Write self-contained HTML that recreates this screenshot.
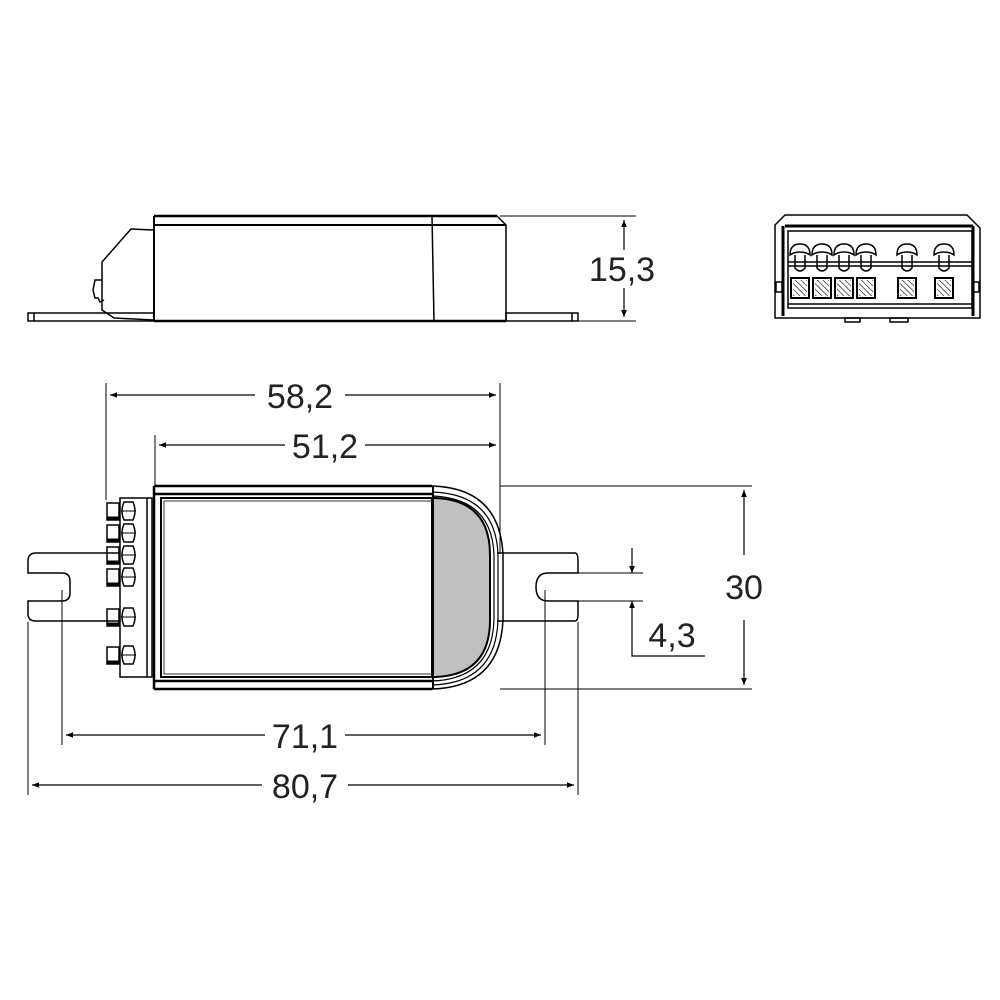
<!DOCTYPE html>
<html><head><meta charset="utf-8"><style>
html,body{margin:0;padding:0;background:#fff}
svg{display:block}
text{font-family:"Liberation Sans",sans-serif;font-size:34px;fill:#222}
</style></head><body>
<svg width="1000" height="1000" viewBox="0 0 1000 1000" xmlns="http://www.w3.org/2000/svg">
<defs>
<marker id="a" viewBox="0 0 10 10" refX="10" refY="5" markerWidth="12" markerHeight="7" orient="auto-start-reverse" markerUnits="userSpaceOnUse">
<path d="M0,1 L10,5 L0,9 Z" fill="#000"/></marker>
<pattern id="h" width="4" height="4" patternUnits="userSpaceOnUse" patternTransform="rotate(-45)">
<line x1="0" y1="0" x2="0" y2="4" stroke="#000" stroke-width="1.2"/></pattern>
</defs>
<g fill="none" stroke="#000" stroke-width="1.5">
<!-- SIDE VIEW -->
<line x1="154" y1="216" x2="497" y2="216" stroke-width="2.5"/>
<line x1="154" y1="225" x2="506" y2="225" stroke-width="2"/>
<path d="M497,216 L506,225 L506,321"/>
<line x1="154" y1="216" x2="154" y2="321" stroke-width="2"/>
<line x1="154" y1="321" x2="506" y2="321" stroke-width="2.5"/>
<line x1="432" y1="216" x2="434" y2="321"/>
<rect x="28" y="313" width="126" height="8"/>
<line x1="34" y1="313" x2="34" y2="321"/>
<rect x="506" y="313" width="72" height="8"/>
<line x1="572" y1="313" x2="572" y2="321"/>
<path d="M153,230 L131,229 L102,262 L102,310 L114,318 L153,320"/>
<path d="M102,280 L95,280 L93,290 L95,298 L98,298 L100,302 L104,300"/>
<!-- 15,3 -->
<line x1="500" y1="216" x2="636" y2="216" stroke-width="1"/>
<line x1="578" y1="321" x2="636" y2="321" stroke-width="1"/>
<line x1="624" y1="220" x2="624" y2="250" stroke-width="1.2" marker-start="url(#a)"/>
<line x1="624" y1="288" x2="624" y2="317" stroke-width="1.2" marker-end="url(#a)"/>

<!-- FRONT VIEW -->
<path d="M775,225 L785,215 L967,215 L980,228 L980,318 L775,318 Z"/>
<line x1="783" y1="226" x2="783" y2="316" stroke-width="3"/>
<line x1="973" y1="226" x2="973" y2="316" stroke-width="3"/>
<line x1="785" y1="226" x2="973" y2="226" stroke-width="3"/>
<rect x="788" y="231" width="184" height="77"/>
<line x1="788" y1="262" x2="972" y2="262"/>
<line x1="788" y1="266" x2="972" y2="266"/>
<line x1="788" y1="304" x2="972" y2="304"/>
<rect x="776" y="282" width="6" height="10"/>
<rect x="973" y="282" width="6" height="10"/>
<rect x="845" y="318" width="15" height="4"/>
<rect x="890" y="318" width="18" height="4"/>
<g id="hd">
<path d="M790,255 Q790,244 800,244 Q810,244 810,255 Q806,252 800,252 Q794,252 790,255 Z"/>
<path d="M795,255 L795,268 Q800,274 805,268 L805,255"/>
<rect x="791" y="278" width="18" height="20" stroke-width="2"/>
<rect x="793" y="280" width="14" height="16" fill="url(#h)" stroke="none"/>
</g>
<use href="#hd" x="22"/><use href="#hd" x="44"/><use href="#hd" x="66"/><use href="#hd" x="107"/><use href="#hd" x="144"/>

<!-- TOP VIEW -->
<path d="M120,553 L36,553 Q28,553 28,561 L28,573 L62,573 Q70,573 70,581 L70,593 Q70,601 62,601 L28,601 L28,614 Q28,621 36,621 L120,621"/>
<path d="M497,553 L575,553 Q578,553 578,561 L578,573 L548,573 Q536,573 536,587 Q536,601 548,601 L578,601 L578,614 Q578,621 575,621 L497,621"/>
<rect x="120" y="498" width="32" height="179"/>
<line x1="147" y1="498" x2="147" y2="677"/>
<g id="tm">
<rect x="107" y="503" width="12" height="17"/>
<path d="M107,518 L119,518" stroke-width="3"/>
<path d="M124,502 Q120,511 124,520 L133,520 Q137,511 133,502 Z"/>
<line x1="121" y1="511" x2="136" y2="511" stroke-width="1"/>
</g>
<use href="#tm" y="22"/><use href="#tm" y="44"/><use href="#tm" y="66"/><use href="#tm" y="106"/><use href="#tm" y="144"/>
<line x1="154" y1="486" x2="432" y2="486" stroke-width="2.5"/>
<line x1="154" y1="494" x2="432" y2="494" stroke-width="2.5"/>
<line x1="154" y1="689" x2="432" y2="689" stroke-width="2.5"/>
<line x1="154" y1="681" x2="432" y2="681" stroke-width="2.5"/>
<line x1="154" y1="486" x2="154" y2="689" stroke-width="2.5"/>
<rect x="161" y="498" width="271" height="179" stroke-width="2"/>
<rect x="164" y="501" width="268" height="173" stroke-width="0.8"/>
<path d="M433,498 L435,498 Q490,500 490,555 L490,620 Q490,675 435,677 L433,677 Z" fill="#c0c0c0" stroke-width="2"/>
<path d="M432,486 Q500,488 503,555 L503,620 Q500,687 432,689" stroke-width="1.5"/>
<path d="M432,492 Q496,494 498,555 L498,620 Q496,683 432,685" stroke-width="1.2"/>
<path d="M432,496 Q492,498 494,555 L494,620 Q492,679 432,681" stroke-width="1.2"/>
<line x1="433" y1="486" x2="433" y2="689" stroke-width="2"/>
<!-- dims -->
<g stroke-width="1">
<line x1="106" y1="383" x2="106" y2="500"/>
<line x1="500" y1="383" x2="500" y2="553"/>
<line x1="155" y1="435" x2="155" y2="486"/>
<line x1="500" y1="486" x2="752" y2="486"/>
<line x1="500" y1="689" x2="752" y2="689"/>
<line x1="578" y1="573" x2="643" y2="573"/>
<line x1="578" y1="601" x2="643" y2="601"/>
<line x1="62" y1="590" x2="62" y2="745"/>
<line x1="545" y1="590" x2="545" y2="745"/>
<line x1="28" y1="622" x2="28" y2="795"/>
<line x1="578" y1="622" x2="578" y2="795"/>
</g>
<g stroke-width="1.2">
<line x1="110" y1="395" x2="255" y2="395" marker-start="url(#a)"/>
<line x1="345" y1="395" x2="496" y2="395" marker-end="url(#a)"/>
<line x1="159" y1="445" x2="285" y2="445" marker-start="url(#a)"/>
<line x1="365" y1="445" x2="496" y2="445" marker-end="url(#a)"/>
<line x1="744" y1="490" x2="744" y2="555" marker-start="url(#a)"/>
<line x1="744" y1="620" x2="744" y2="685" marker-end="url(#a)"/>
<line x1="632" y1="548" x2="632" y2="573" marker-end="url(#a)"/>
<path d="M632,601 L632,656 L705,656" marker-start="url(#a)"/>
<line x1="66" y1="735" x2="265" y2="735" marker-start="url(#a)"/>
<line x1="345" y1="735" x2="541" y2="735" marker-end="url(#a)"/>
<line x1="32" y1="785" x2="262" y2="785" marker-start="url(#a)"/>
<line x1="348" y1="785" x2="574" y2="785" marker-end="url(#a)"/>
</g>
</g>
<text x="622" y="281" text-anchor="middle">15,3</text>
<text x="300" y="408" text-anchor="middle">58,2</text>
<text x="325" y="458" text-anchor="middle">51,2</text>
<text x="744" y="599" text-anchor="middle">30</text>
<text x="672" y="647" text-anchor="middle">4,3</text>
<text x="305" y="748" text-anchor="middle">71,1</text>
<text x="305" y="798" text-anchor="middle">80,7</text>
</svg>
</body></html>
